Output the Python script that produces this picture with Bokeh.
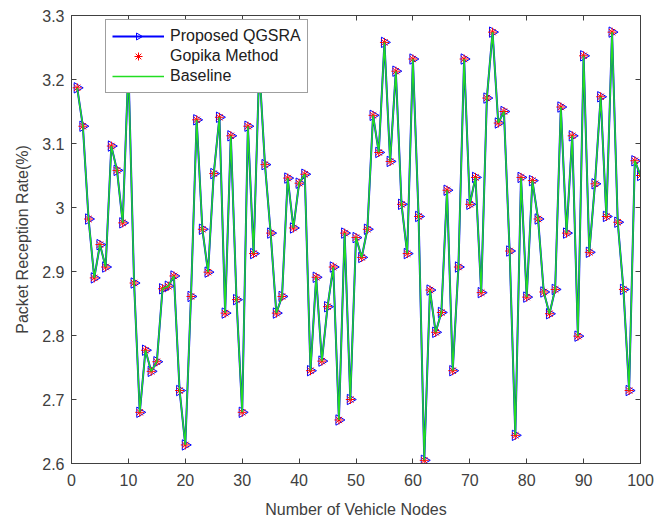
import numpy as np
from bokeh.plotting import figure
from bokeh.models import (LinearAxis, FixedTicker, CustomJSTickFormatter, Range1d, Legend,
                          LegendItem, ColumnDataSource)
from bokeh.embed import file_html
from bokeh.resources import INLINE

nodes = list(range(1, 101))

proposed = [3.187, 3.127, 2.982, 2.890, 2.942, 2.907, 3.096, 3.058, 2.976, 3.220,
            2.882, 2.680, 2.777, 2.744, 2.759, 2.873, 2.877, 2.893, 2.714, 2.629,
            2.861, 3.137, 2.966, 2.899, 3.053, 3.141, 2.835, 3.112, 2.856, 2.680,
            3.127, 2.928, 3.220, 3.067, 2.960, 2.835, 2.861, 3.046, 2.968, 3.038,
            3.052, 2.745, 2.891, 2.760, 2.845, 2.907, 2.668, 2.960, 2.700, 2.953,
            2.922, 2.966, 3.144, 3.086, 3.258, 3.072, 3.213, 3.005, 2.928, 3.232,
            2.986, 2.605, 2.871, 2.805, 2.836, 3.027, 2.745, 2.907, 3.232, 3.005,
            3.047, 2.867, 3.171, 3.274, 3.132, 3.150, 2.932, 2.644, 3.047, 2.860,
            3.042, 2.982, 2.868, 2.834, 2.872, 3.157, 2.960, 3.112, 2.799, 3.237,
            2.930, 3.037, 3.173, 2.986, 3.274, 2.977, 2.872, 2.714, 3.073, 3.050]

gopika = [3.187, 3.127, 2.982, 2.890, 2.942, 2.907, 3.096, 3.058, 2.976, 3.220,
          2.882, 2.680, 2.777, 2.744, 2.759, 2.873, 2.877, 2.893, 2.714, 2.629,
          2.861, 3.137, 2.966, 2.899, 3.053, 3.141, 2.835, 3.112, 2.856, 2.680,
          3.127, 2.928, 3.220, 3.067, 2.960, 2.835, 2.861, 3.046, 2.968, 3.038,
          3.052, 2.745, 2.891, 2.760, 2.845, 2.907, 2.668, 2.960, 2.700, 2.953,
          2.922, 2.966, 3.144, 3.086, 3.258, 3.072, 3.213, 3.005, 2.928, 3.232,
          2.986, 2.605, 2.871, 2.805, 2.836, 3.027, 2.745, 2.907, 3.232, 3.005,
          3.047, 2.867, 3.171, 3.274, 3.132, 3.150, 2.932, 2.644, 3.047, 2.860,
          3.042, 2.982, 2.868, 2.834, 2.872, 3.157, 2.960, 3.112, 2.799, 3.237,
          2.930, 3.037, 3.173, 2.986, 3.274, 2.977, 2.872, 2.714, 3.073, 3.050]

baseline = [3.187, 3.127, 2.982, 2.890, 2.942, 2.907, 3.096, 3.058, 2.976, 3.220,
            2.882, 2.680, 2.777, 2.744, 2.759, 2.873, 2.877, 2.893, 2.714, 2.629,
            2.861, 3.137, 2.966, 2.899, 3.053, 3.141, 2.835, 3.112, 2.856, 2.680,
            3.127, 2.928, 3.220, 3.067, 2.960, 2.835, 2.861, 3.046, 2.968, 3.038,
            3.052, 2.745, 2.891, 2.760, 2.845, 2.907, 2.668, 2.960, 2.700, 2.953,
            2.922, 2.966, 3.144, 3.086, 3.258, 3.072, 3.213, 3.005, 2.928, 3.232,
            2.986, 2.605, 2.871, 2.805, 2.836, 3.027, 2.745, 2.907, 3.232, 3.005,
            3.047, 2.867, 3.171, 3.274, 3.132, 3.150, 2.932, 2.644, 3.047, 2.860,
            3.042, 2.982, 2.868, 2.834, 2.872, 3.157, 2.960, 3.112, 2.799, 3.237,
            2.930, 3.037, 3.173, 2.986, 3.274, 2.977, 2.872, 2.714, 3.073, 3.050]

x_ticks = [0, 10, 20, 30, 40, 50, 60, 70, 80, 90, 100]
y_ticks = [2.6, 2.7, 2.8, 2.9, 3.0, 3.1, 3.2, 3.3]

FONT = "Liberation Sans"
TXT = "#404040"
AX = "#404040"

p = figure(width=666, height=521, output_backend="svg", toolbar_location=None,
           x_range=Range1d(0, 100), y_range=Range1d(2.6, 3.3),
           min_border_left=71, min_border_right=26, min_border_top=15, min_border_bottom=58,
           x_axis_label="Number of Vehicle Nodes", y_axis_label="Packet Reception Rate(%)")
p.xgrid.visible = False
p.ygrid.visible = False
p.outline_line_color = AX
p.outline_line_width = 1
p.background_fill_color = "white"
p.border_fill_color = "white"

fmt = CustomJSTickFormatter(code="return Number(tick.toFixed(1)).toString();")
blank = CustomJSTickFormatter(code="return '';")

for ax in [p.xaxis[0], p.yaxis[0]]:
    ax.axis_line_color = AX
    ax.major_tick_line_color = AX
    ax.major_tick_in = 5
    ax.major_tick_out = 0
    ax.minor_tick_line_color = None
    ax.major_label_text_font = FONT
    ax.major_label_text_font_size = "16px"
    ax.major_label_text_color = TXT
    ax.axis_label_text_font = FONT
    ax.axis_label_text_font_size = "16px"
    ax.axis_label_text_font_style = "normal"
    ax.axis_label_text_color = TXT

p.xaxis[0].ticker = FixedTicker(ticks=x_ticks)
p.yaxis[0].ticker = FixedTicker(ticks=y_ticks)
p.yaxis[0].formatter = fmt
p.xaxis[0].major_label_standoff = 10
p.yaxis[0].major_label_standoff = 7
p.xaxis[0].axis_label_standoff = 12
p.yaxis[0].axis_label_standoff = 8

top = LinearAxis(ticker=FixedTicker(ticks=x_ticks), formatter=blank,
                 major_label_standoff=0, major_tick_in=5, major_tick_out=0,
                 minor_tick_line_color=None, axis_line_color=AX, major_tick_line_color=AX)
right = LinearAxis(ticker=FixedTicker(ticks=y_ticks), formatter=blank,
                   major_label_standoff=0, major_tick_in=5, major_tick_out=0,
                   minor_tick_line_color=None, axis_line_color=AX, major_tick_line_color=AX)
p.add_layout(top, "above")
p.add_layout(right, "right")

src = ColumnDataSource(dict(x=nodes, y=proposed))

r_pl = p.line(nodes, proposed, line_color="#0000ff", line_width=2)
try:
    r_ps = p.ngon(x="x", y="y", source=src, n=3, radius=6, radius_units="screen",
                  angle=-np.pi / 2, line_color="#0000ff", fill_color=None, line_width=1)
except Exception:
    r_ps = p.scatter("x", "y", source=src, marker="triangle", size=10,
                     line_color="#0000ff", fill_color=None, line_width=1)
r_g = p.scatter(nodes, gopika, marker="asterisk", size=9, line_color="#ff0000", line_width=1)
r_b = p.line(nodes, baseline, line_color="#22dd22", line_width=1.5)

legend = Legend(items=[
    LegendItem(label="Proposed QGSRA", renderers=[r_pl, r_ps]),
    LegendItem(label="Gopika Method", renderers=[r_g]),
    LegendItem(label="Baseline", renderers=[r_b]),
], location=(34, 370))
legend.label_text_font = FONT
legend.label_text_font_size = "16px"
legend.label_text_color = "#202020"
legend.glyph_width = 52
legend.glyph_height = 20
legend.label_height = 20
legend.label_standoff = 6
legend.padding = 6
legend.spacing = 0
legend.margin = 0
legend.border_line_color = AX
legend.border_line_width = 1
legend.background_fill_color = "white"
legend.background_fill_alpha = 1
p.add_layout(legend, "center")

open("out.html", "w").write(file_html(p, INLINE))
